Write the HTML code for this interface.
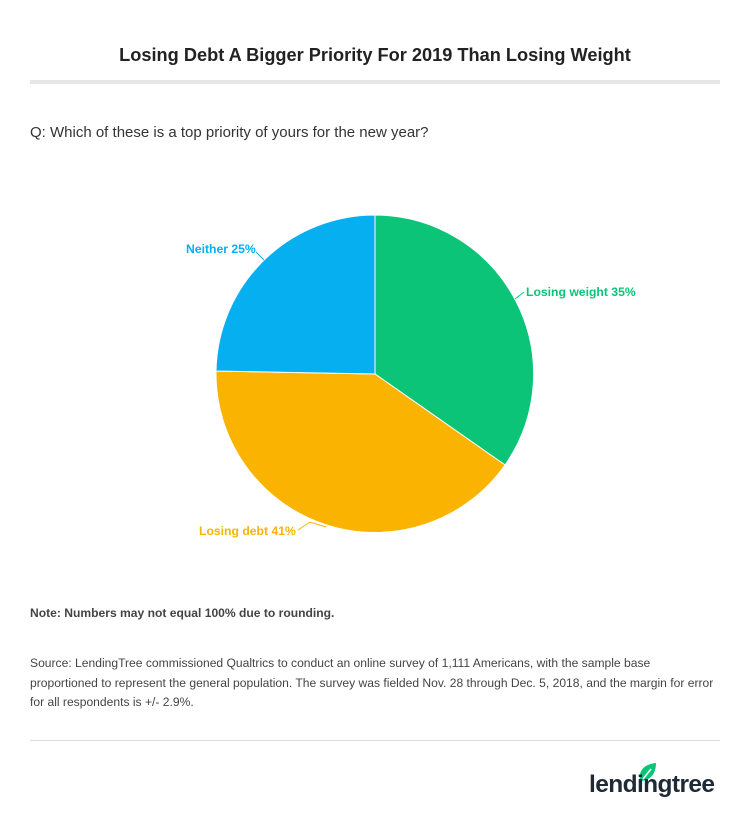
<!DOCTYPE html>
<html><head><style>
body{margin:0;width:750px;height:822px;background:#fff;font-family:"Liberation Sans",sans-serif;position:relative;overflow:hidden}
.t{position:absolute;left:0;width:750px;top:45px;text-align:center;font-weight:bold;font-size:18.2px;color:#222}
.bar{position:absolute;left:30px;width:690px;top:80px;height:4px;background:#e6e6e6}
.q{position:absolute;left:30px;top:124px;font-size:15px;color:#333}
.n{position:absolute;left:30px;top:606px;font-size:12.1px;font-weight:bold;color:#444}
.s{position:absolute;left:30px;top:654px;width:700px;font-size:12.1px;line-height:19.5px;color:#444;white-space:nowrap}
.hr{position:absolute;left:30px;width:690px;top:740px;height:1px;background:#ddd}
.logo{position:absolute;left:589px;top:771px;font-size:24.5px;color:#1e2a36;letter-spacing:-0.6px;font-weight:bold}
</style></head><body>
<div class="t">Losing Debt A Bigger Priority For 2019 Than Losing Weight</div>
<div class="bar"></div>
<div class="q">Q: Which of these is a top priority of yours for the new year?</div>
<svg width="750" height="822" style="position:absolute;left:0;top:0">
<path d="M375,374 L375,215 A159,159 0 0,1 505,465 Z" fill="#0cc477" stroke="#fff" stroke-width="1"/>
<path d="M375,374 L505,465 A159,159 0 0,1 216,371 Z" fill="#fab400" stroke="#fff" stroke-width="1"/>
<path d="M375,374 L216,371 A159,159 0 0,1 375,215 Z" fill="#05aff0" stroke="#fff" stroke-width="1"/>
<polyline points="256,252 264,260" fill="none" stroke="#05aff0"/>
<polyline points="515,299 524,292" fill="none" stroke="#0cc477"/>
<polyline points="298,530 310,522 326,527" fill="none" stroke="#fab400"/>
<text x="186" y="253" font-size="12.2" font-weight="bold" fill="#05aff0" font-family="Liberation Sans">Neither 25%</text>
<text x="526" y="296" font-size="12.2" font-weight="bold" fill="#0cc477" font-family="Liberation Sans">Losing weight 35%</text>
<text x="199" y="535" font-size="12.2" font-weight="bold" fill="#fab400" font-family="Liberation Sans">Losing debt 41%</text>
<path d="M640,781 C638,770 645,764 656,763 C656,774 650,781 640,781 Z" fill="#0cc477"/>
<path d="M643,779 L651,769" stroke="#fff" stroke-width="1.5"/>
</svg>
<div class="n">Note: Numbers may not equal 100% due to rounding.</div>
<div class="s">Source: LendingTree commissioned Qualtrics to conduct an online survey of 1,111 Americans, with the sample base<br>proportioned to represent the general population. The survey was fielded Nov. 28 through Dec. 5, 2018, and the margin for error<br>for all respondents is +/- 2.9%.</div>
<div class="hr"></div>
<div class="logo">lendingtree</div>
</body></html>
